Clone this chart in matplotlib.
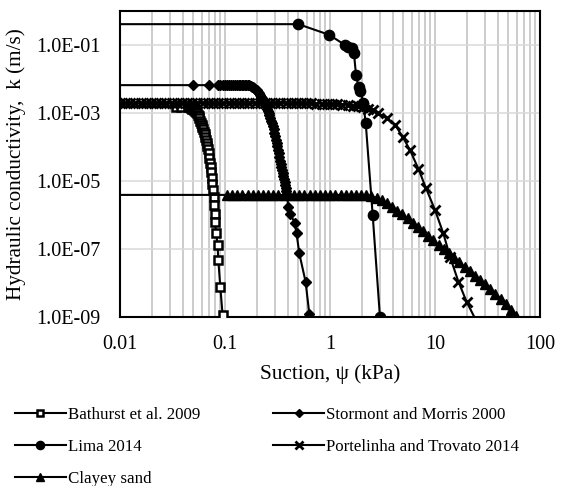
import matplotlib
matplotlib.use("Agg")
import matplotlib.pyplot as plt
from matplotlib.ticker import FixedLocator, FuncFormatter, LogLocator, NullFormatter, NullLocator

plt.rcParams['font.family'] = ['Liberation Serif', 'DejaVu Serif']

# ---- data: suction psi (kPa) and hydraulic conductivity k (m/s) ----
bathurst_psi = [0.001, 0.034, 0.038, 0.044,
                0.046, 0.047, 0.048, 0.049, 0.050, 0.051, 0.052, 0.053, 0.054, 0.055,
                0.056, 0.057, 0.058, 0.059, 0.060, 0.061, 0.062, 0.063, 0.064, 0.065,
                0.066, 0.067, 0.068, 0.069, 0.070, 0.071, 0.072, 0.073, 0.074, 0.075,
                0.076, 0.077, 0.078, 0.079, 0.0795,
                0.0803, 0.0823, 0.0849, 0.0863, 0.0903, 0.0948]
bathurst_k = [1.5e-3, 1.5e-3, 1.5e-3, 1.5e-3,
              1.48e-3, 1.45e-3, 1.40e-3, 1.35e-3, 1.29e-3, 1.22e-3, 1.15e-3, 1.07e-3, 9.8e-4,
              8.9e-4, 7.9e-4, 6.9e-4, 6.0e-4, 5.2e-4, 4.5e-4, 3.9e-4, 3.3e-4, 2.8e-4, 2.4e-4,
              2.0e-4, 1.66e-4, 1.35e-4, 1.1e-4, 8.5e-5, 6.6e-5, 4.9e-5, 3.5e-5, 2.5e-5, 1.8e-5,
              1.23e-5, 8.3e-6, 5.5e-6, 3.5e-6, 2.0e-6, 1.1e-6,
              6.3e-7, 3.0e-7, 1.35e-7, 4.8e-8, 7.4e-9, 1.17e-9]

stormont_psi = [0.001, 0.050, 0.070,
                0.085, 0.090, 0.095, 0.100, 0.105, 0.110, 0.115, 0.120, 0.125, 0.130,
                0.135, 0.140, 0.145, 0.150, 0.155, 0.160, 0.165, 0.170, 0.175, 0.180,
                0.185, 0.190, 0.195, 0.200, 0.205, 0.210, 0.215, 0.220, 0.225, 0.230,
                0.235, 0.240, 0.245, 0.250, 0.255, 0.260, 0.265, 0.270, 0.275, 0.280,
                0.285, 0.290, 0.295, 0.300, 0.305, 0.310, 0.315, 0.320, 0.325, 0.330,
                0.335, 0.340, 0.345, 0.350, 0.355, 0.360, 0.365, 0.370, 0.375, 0.380,
                0.385, 0.390,
                0.400, 0.420, 0.460, 0.480, 0.510, 0.585, 0.635]
stormont_k = [6.6e-3, 6.6e-3, 6.6e-3,
              6.6e-3, 6.6e-3, 6.6e-3, 6.6e-3, 6.6e-3, 6.6e-3, 6.6e-3, 6.6e-3, 6.6e-3, 6.6e-3,
              6.6e-3, 6.6e-3, 6.6e-3, 6.6e-3, 6.6e-3, 6.6e-3, 6.53e-3, 6.5e-3, 6.24e-3, 6.0e-3,
              5.69e-3, 5.4e-3, 5.01e-3, 4.6e-3, 4.17e-3, 3.8e-3, 3.39e-3, 3.0e-3, 2.69e-3, 2.4e-3,
              2.09e-3, 1.8e-3, 1.58e-3, 1.35e-3, 1.17e-3, 1.0e-3, 8.5e-4, 7.2e-4, 6.0e-4, 5.0e-4,
              4.1e-4, 3.3e-4, 2.6e-4, 2.1e-4, 1.66e-4, 1.3e-4, 1.05e-4, 8.3e-5, 6.5e-5, 5.0e-5,
              4.0e-5, 3.2e-5, 2.6e-5, 2.1e-5, 1.7e-5, 1.4e-5, 1.15e-5, 9.3e-6, 7.6e-6, 6.3e-6,
              5.0e-6, 4.0e-6,
              1.7e-6, 1.1e-6, 5.8e-7, 2.9e-7, 7.4e-8, 1.1e-8, 1.26e-9]

lima_psi = [0.001, 0.50, 0.98, 1.39, 1.50, 1.61, 1.69, 1.77, 1.87, 1.95, 2.07, 2.19,
            2.55, 2.99]
lima_k = [0.41, 0.41, 0.20, 0.10, 0.09, 0.08, 0.058, 0.013, 5.9e-3, 4.4e-3, 2.0e-3, 5.0e-4,
          1.0e-6, 1.0e-9]

portelinha_psi = [0.0100, 0.0112, 0.0125, 0.0140, 0.0157, 0.0176, 0.0197, 0.0221, 0.0248,
                  0.0277, 0.0311, 0.0348, 0.0390, 0.0436, 0.0489, 0.0547, 0.0613, 0.0687,
                  0.0769, 0.0861, 0.0965, 0.108, 0.121, 0.136, 0.152, 0.170, 0.191, 0.214,
                  0.239, 0.268, 0.300, 0.336, 0.377, 0.422, 0.472, 0.529, 0.593, 0.664,
                  0.743, 0.833, 0.932, 1.04, 1.17, 1.31, 1.47, 1.64, 1.84, 2.06,
                  2.30, 2.55, 2.89, 3.47, 4.16, 4.92, 5.78, 6.94, 8.20, 10.0, 12.0, 13.9,
                  16.7, 20.0, 27.0]
portelinha_k = [1.95e-3, 1.95e-3, 1.95e-3, 1.95e-3, 1.95e-3, 1.95e-3, 1.95e-3, 1.95e-3, 1.95e-3,
                1.95e-3, 1.95e-3, 1.95e-3, 1.95e-3, 1.95e-3, 1.95e-3, 1.95e-3, 1.95e-3, 1.95e-3,
                1.95e-3, 1.95e-3, 1.95e-3, 1.95e-3, 1.95e-3, 1.95e-3, 1.95e-3, 1.95e-3, 1.95e-3,
                1.95e-3, 1.95e-3, 1.95e-3, 1.95e-3, 1.95e-3, 1.95e-3, 1.95e-3, 1.94e-3, 1.93e-3,
                1.92e-3, 1.91e-3, 1.9e-3, 1.88e-3, 1.86e-3, 1.84e-3, 1.81e-3, 1.77e-3, 1.72e-3,
                1.66e-3, 1.58e-3, 1.48e-3,
                1.35e-3, 1.2e-3, 9.8e-4, 6.9e-4, 4.5e-4, 2.0e-4, 8.1e-5, 2.3e-5, 6.2e-6,
                1.4e-6, 2.9e-7, 5.9e-8, 1.1e-8, 2.8e-9, 4.5e-10]

clayey_psi = [0.001, 0.104, 0.116, 0.130, 0.146, 0.164, 0.183, 0.205, 0.230, 0.258, 0.289,
              0.323, 0.362, 0.406, 0.454, 0.509, 0.570, 0.638, 0.715, 0.800, 0.896,
              1.00, 1.12, 1.26, 1.41, 1.58, 1.77, 1.98, 2.22, 2.48, 2.78, 3.11, 3.49,
              3.91, 4.38, 4.90, 5.49, 6.15, 6.88, 7.71, 8.63, 9.67, 10.8, 12.1, 13.6,
              15.2, 17.0, 19.1, 21.4, 23.9, 26.8, 30.0, 33.6, 37.6, 42.1, 47.2, 52.8,
              59.2]
clayey_k = [3.9e-6, 3.9e-6, 3.9e-6, 3.9e-6, 3.9e-6, 3.9e-6, 3.9e-6, 3.9e-6, 3.9e-6, 3.9e-6,
            3.9e-6, 3.9e-6, 3.9e-6, 3.9e-6, 3.9e-6, 3.9e-6, 3.9e-6, 3.9e-6, 3.9e-6, 3.9e-6,
            3.9e-6, 3.9e-6, 3.9e-6, 3.9e-6, 3.9e-6, 3.9e-6, 3.9e-6, 3.9e-6, 3.8e-6, 3.55e-6,
            3.16e-6, 2.69e-6, 2.19e-6, 1.74e-6, 1.35e-6, 1.05e-6, 8.1e-7, 6.0e-7, 4.5e-7,
            3.3e-7, 2.45e-7, 1.8e-7, 1.35e-7, 1.0e-7, 7.4e-8, 5.5e-8, 4.1e-8, 3.0e-8,
            2.2e-8, 1.66e-8, 1.23e-8, 9.1e-9, 6.8e-9, 4.9e-9, 3.5e-9, 2.4e-9, 1.6e-9,
            1.05e-9]

x_ticks = [0.01, 0.1, 1, 10, 100]
x_tick_labels = ["0.01", "0.1", "1", "10", "100"]
y_ticks = [1e-9, 1e-7, 1e-5, 1e-3, 1e-1]
y_tick_labels = ["1.0E-09", "1.0E-07", "1.0E-05", "1.0E-03", "1.0E-01"]

W, H = 573, 486
fig = plt.figure(figsize=(W / 100, H / 100), dpi=100)
ax = fig.add_axes([120 / W, 1 - 317 / H, 420 / W, 306 / H])

ax.set_xscale("log")
ax.set_yscale("log")
ax.set_xlim(0.01, 100)
ax.set_ylim(1e-9, 1e0)

common = dict(color="black", lw=1.5, clip_on=True, zorder=3)

h_bat, = ax.plot(bathurst_psi, bathurst_k, marker="s", ms=5.6, mfc="white", mec="black",
                 mew=1.8, markevery=slice(1, None), **common)
h_sto, = ax.plot(stormont_psi, stormont_k, marker="D", ms=5.4, mfc="black", mec="black",
                 markevery=slice(1, None), **common)
h_lim, = ax.plot(lima_psi, lima_k, marker="o", ms=7.4, mfc="black", mec="black",
                 markevery=slice(1, None), **common)
h_por, = ax.plot(portelinha_psi, portelinha_k, marker="x", ms=6.6, mec="black", mew=2.0,
                 **common)
h_cla, = ax.plot(clayey_psi, clayey_k, marker="^", ms=6.6, mfc="black", mec="black",
                 markevery=slice(1, None), **common)

# axes ticks and grid
ax.xaxis.set_major_locator(FixedLocator(x_ticks))
ax.xaxis.set_major_formatter(FuncFormatter(
    lambda v, p: x_tick_labels[min(range(len(x_ticks)), key=lambda i: abs(x_ticks[i] / v - 1))]))
ax.xaxis.set_minor_locator(LogLocator(base=10, subs=range(2, 10), numticks=20))
ax.xaxis.set_minor_formatter(NullFormatter())
ax.yaxis.set_major_locator(FixedLocator(y_ticks))
ax.yaxis.set_major_formatter(FuncFormatter(
    lambda v, p: y_tick_labels[min(range(len(y_ticks)), key=lambda i: abs(y_ticks[i] / v - 1))]))
ax.yaxis.set_minor_locator(NullLocator())

ax.grid(True, axis="x", which="both", color="#bfbfbf", lw=1.1, zorder=0)
ax.grid(True, axis="y", which="major", color="#d9d9d9", lw=1.1, zorder=0)
ax.set_axisbelow(True)

for s in ax.spines.values():
    s.set_linewidth(1.5)
    s.set_color("black")

ax.tick_params(axis="both", which="both", length=0)
ax.tick_params(axis="y", pad=14, labelsize=14.5)
ax.tick_params(axis="x", pad=13, labelsize=14.5)

ax.set_xlabel("Suction, \u03c8 (kPa)", fontsize=15.3, labelpad=7)
ax.set_ylabel("Hydraulic conductivity,  k (m/s)", fontsize=15.3, labelpad=7)

leg = fig.legend([h_bat, h_lim, h_cla, h_sto, h_por],
                 ["Bathurst et al. 2009", "Lima 2014", "Clayey sand",
                  "Stormont and Morris 2000", "Portelinha and Trovato 2014"],
                 ncol=2, loc="upper left", bbox_to_anchor=(15 / W, 1 - 407 / H),
                 frameon=False, fontsize=12.2, handlelength=3.0, handletextpad=0.12,
                 columnspacing=4.3, labelspacing=0.95, borderpad=0, borderaxespad=0,
                 markerscale=0.8)

fig.savefig("out.png", dpi=100)
